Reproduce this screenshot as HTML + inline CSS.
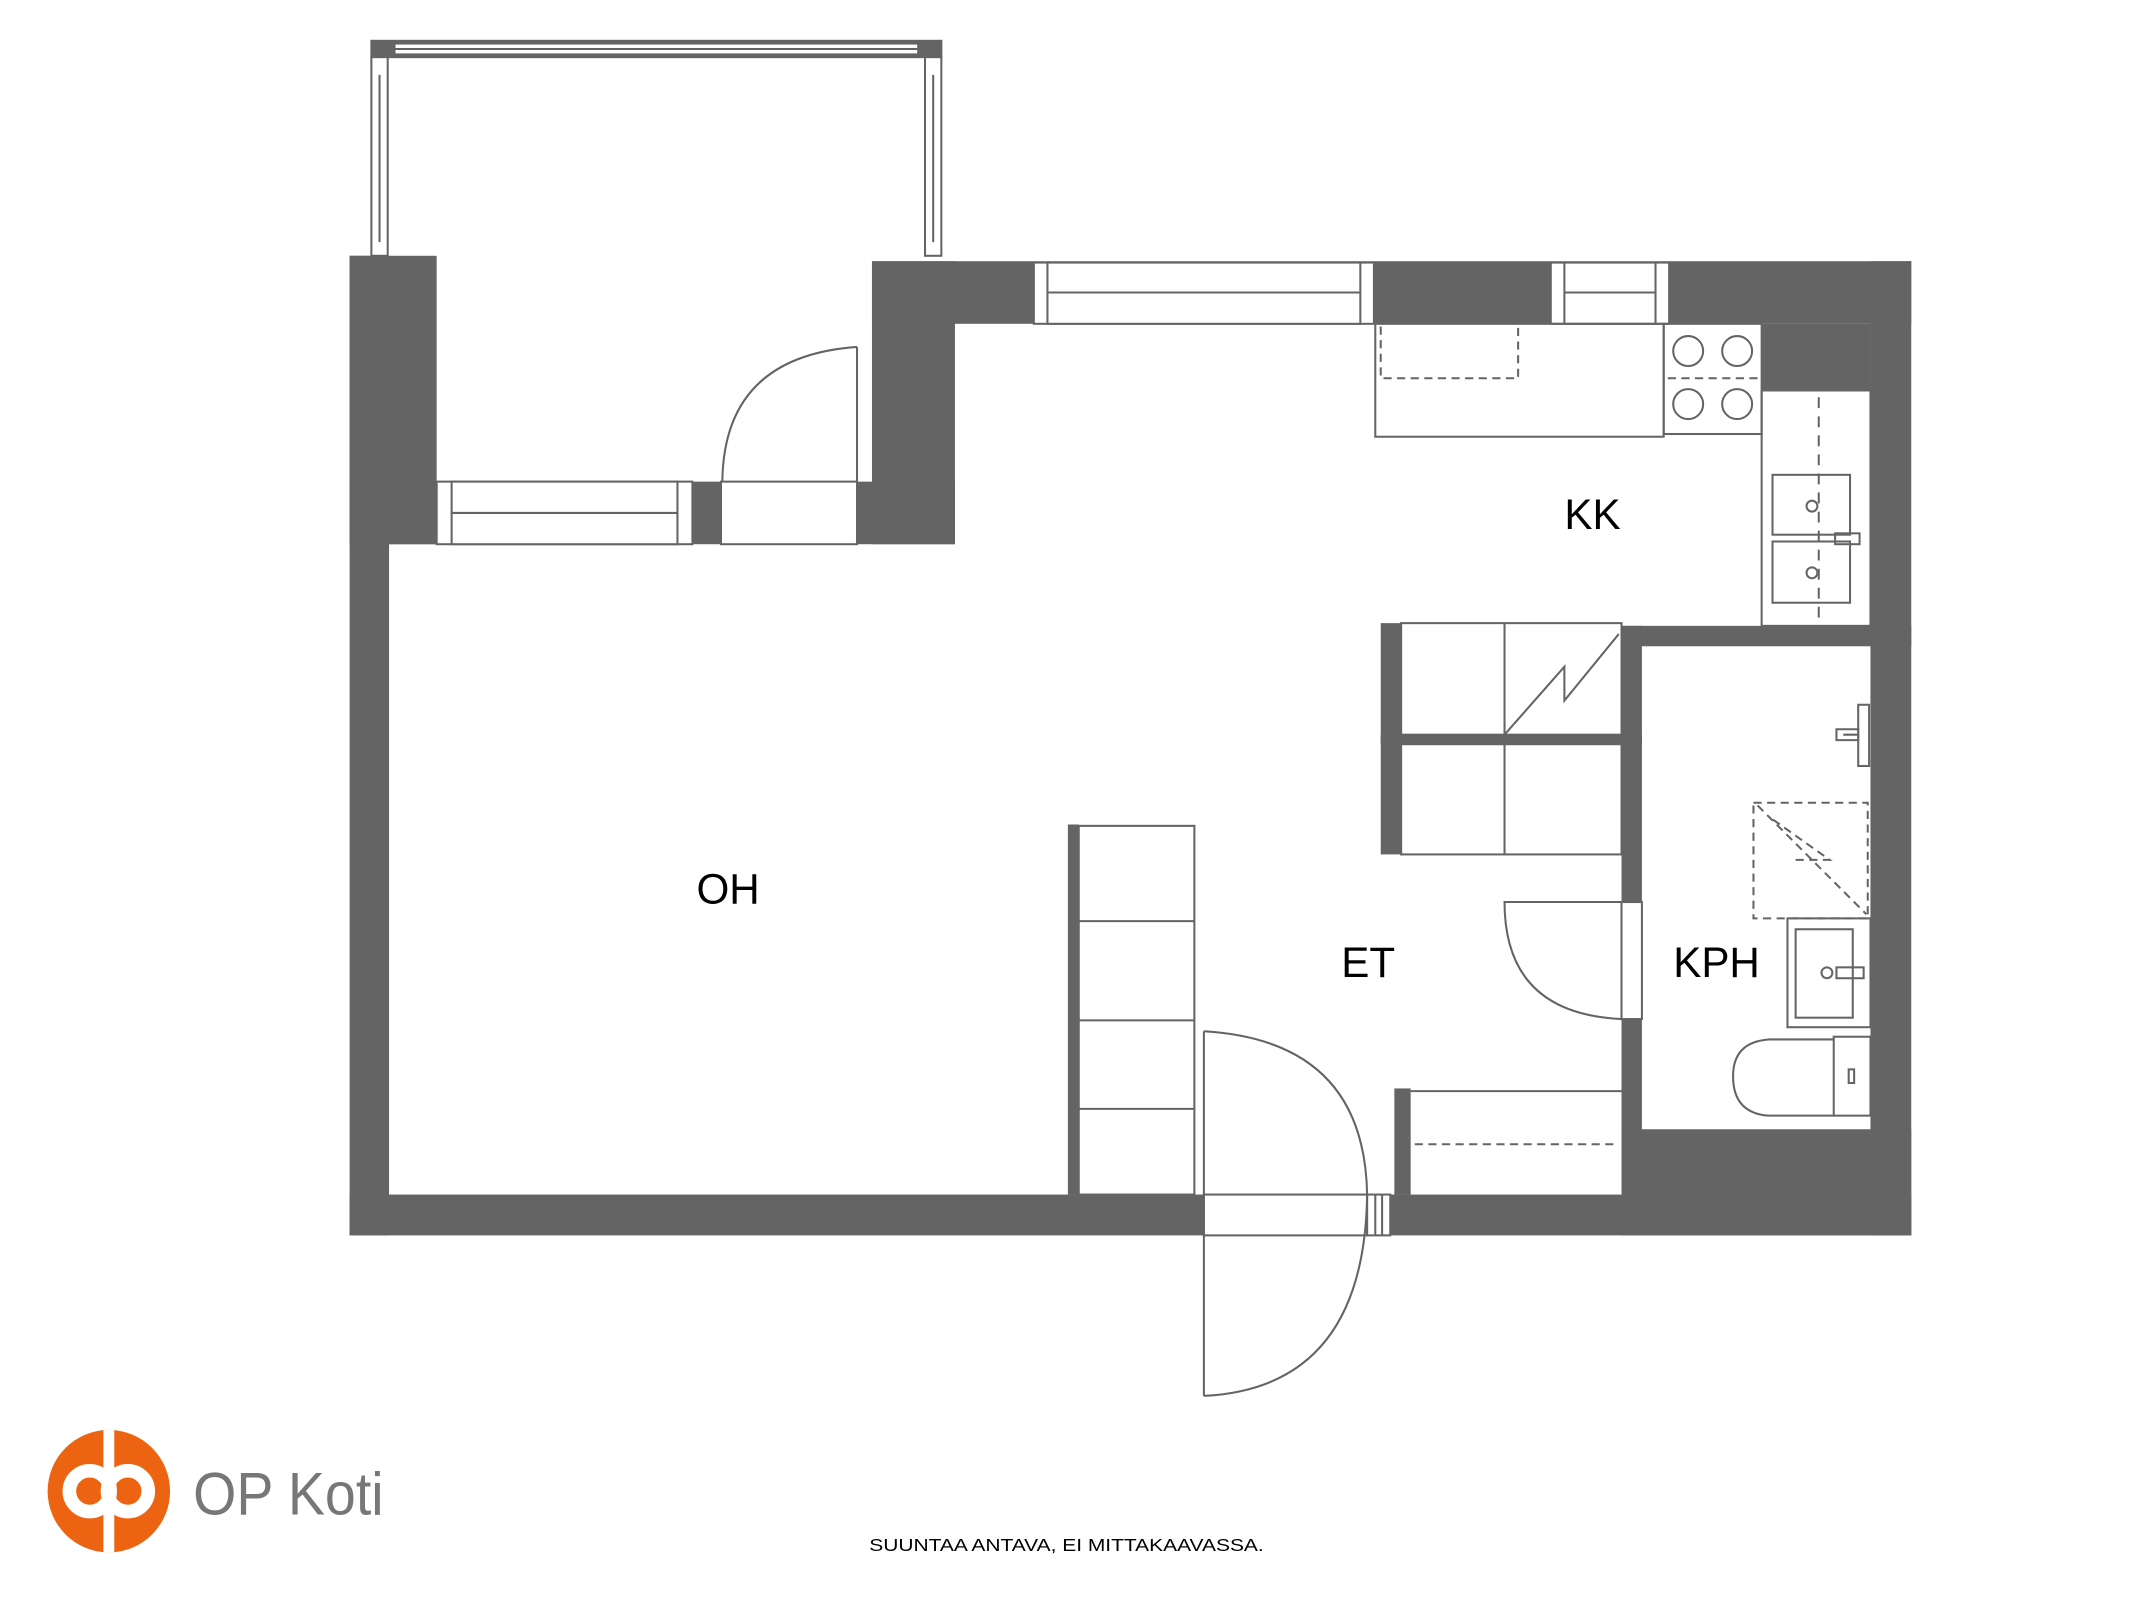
<!DOCTYPE html>
<html><head><meta charset="utf-8"><style>html,body{margin:0;padding:0;background:#fff}svg{display:block}</style></head>
<body>
<svg width="2133" height="1600" viewBox="0 0 1568 1176" preserveAspectRatio="none" xmlns="http://www.w3.org/2000/svg">
<g fill="#646464">
<rect x="257" y="188" width="64" height="212"/>
<rect x="257" y="188" width="29" height="720"/>
<rect x="257" y="354" width="445" height="46"/>
<rect x="641" y="192" width="61" height="208"/>
<rect x="641" y="192" width="764" height="46"/>
<rect x="1375" y="192" width="30" height="716"/>
<rect x="1295" y="238" width="80" height="49"/>
<rect x="257" y="878" width="1148" height="30"/>
<rect x="1192" y="460" width="213" height="15"/>
<rect x="1192" y="460" width="15" height="418"/>
<rect x="1192" y="830" width="213" height="78"/>
<rect x="1015" y="458" width="15" height="170"/>
<rect x="1015" y="540" width="192" height="7"/>
<rect x="785" y="606" width="8" height="272"/>
<rect x="1025" y="800" width="12" height="78"/>
</g>
<g fill="#fff" stroke="#646464" stroke-width="1.5">
<rect x="760" y="193" width="250" height="45"/>
<rect x="770" y="193" width="230" height="45"/>
<line x1="770" y1="215" x2="1000" y2="215"/>
<rect x="1140" y="193" width="87" height="45"/>
<rect x="1150" y="193" width="67" height="45"/>
<line x1="1150" y1="215" x2="1217" y2="215"/>
<rect x="321" y="354" width="188" height="46"/>
<rect x="332" y="354" width="166" height="46"/>
<line x1="332" y1="377" x2="498" y2="377"/>
<rect x="530" y="354" width="100" height="46"/>
<rect x="885" y="878" width="120" height="30"/>
<rect x="1005" y="878" width="17" height="30"/>
<line x1="1011" y1="878" x2="1011" y2="908"/><line x1="1016" y1="878" x2="1016" y2="908"/>
<rect x="1192" y="663" width="15" height="86"/>
</g>
<g fill="none" stroke="#646464" stroke-width="1.5">
<rect x="273" y="30" width="419" height="12" fill="#646464"/>
<rect x="290" y="32" width="385" height="8" fill="#fff"/>
<line x1="290" y1="36" x2="675" y2="36"/>
<rect x="273" y="42" width="12" height="146" fill="#fff"/>
<line x1="279" y1="55" x2="279" y2="178"/>
<rect x="680" y="42" width="12" height="146" fill="#fff"/>
<line x1="686" y1="55" x2="686" y2="178"/>
<path d="M630 255 L630 354 M630 255 Q532 262 531 354"/>
<rect x="1011" y="238" width="212" height="83"/>
<path d="M1015 240 V278 H1116 V240" stroke-dasharray="6 4"/>
<rect x="1223" y="238" width="72" height="81"/>
<circle cx="1241" cy="258" r="11"/><circle cx="1277" cy="258" r="11"/>
<circle cx="1241" cy="297" r="11"/><circle cx="1277" cy="297" r="11"/>
<line x1="1226" y1="278" x2="1293" y2="278" stroke-dasharray="6 4"/>
<rect x="1295" y="287" width="80" height="173"/>
<line x1="1337" y1="292" x2="1337" y2="458" stroke-dasharray="8 6"/>
<rect x="1303" y="349" width="57" height="44"/>
<rect x="1303" y="398" width="57" height="45"/>
<circle cx="1332" cy="372" r="4"/><circle cx="1332" cy="421" r="4"/>
<rect x="1349" y="392" width="18" height="8"/>
<rect x="1030" y="458" width="162" height="82"/>
<line x1="1106" y1="458" x2="1106" y2="540"/>
<path d="M1106 540 L1150 490 L1150 515 L1190 466"/>
<rect x="1030" y="547" width="162" height="81"/>
<line x1="1106" y1="547" x2="1106" y2="628"/>
<rect x="793" y="607" width="85" height="271"/>
<line x1="793" y1="677" x2="878" y2="677"/>
<line x1="793" y1="750" x2="878" y2="750"/>
<line x1="793" y1="815" x2="878" y2="815"/>
<path d="M885 758 L885 1026 M885 758 Q1003 765 1005 878 Q1003 1020 885 1026"/>
<path d="M1192 663 L1106 663 Q1106 745 1192 749"/>
<path d="M1037 802 L1192 802"/>
<line x1="1040" y1="841" x2="1190" y2="841" stroke-dasharray="6 4"/>
<path d="M1289 590 H1373 V675 H1289 Z M1292 592 L1372 672 M1320 632 H1345 L1300 600" stroke-dasharray="6 4"/>
<rect x="1314" y="675" width="61" height="80"/>
<rect x="1320" y="683" width="42" height="65"/>
<circle cx="1343" cy="715" r="4"/>
<rect x="1350" y="711" width="20" height="8"/>
<rect x="1348" y="762" width="27" height="58"/>
<path d="M1348 764 H1300 Q1274 766 1274 791 Q1274 818 1300 820 H1348"/>
<rect x="1359" y="786" width="4" height="10"/>
<rect x="1366" y="518" width="8" height="45"/>
<path d="M1366 540 H1355 M1350 536 H1366 V544 H1350 Z"/>
</g>
<g font-family="Liberation Sans, sans-serif" fill="#000" font-size="31">
<text x="512" y="664">OH</text>
<text x="1150" y="389">KK</text>
<text x="986" y="718">ET</text>
<text x="1230" y="718">KPH</text>
<text x="639" y="1140" font-size="13" textLength="290" lengthAdjust="spacingAndGlyphs">SUUNTAA ANTAVA, EI MITTAKAAVASSA.</text>
</g>
<circle cx="80" cy="1096" r="45" fill="#ec6411"/>
<circle cx="66" cy="1096" r="15" fill="none" stroke="#fff" stroke-width="10"/>
<circle cx="94" cy="1096" r="15" fill="none" stroke="#fff" stroke-width="10"/>
<rect x="76" y="1051" width="8" height="90" fill="#fff"/>
<text x="142" y="1113" font-family="Liberation Sans, sans-serif" font-size="44" fill="#777" textLength="140" lengthAdjust="spacingAndGlyphs">OP Koti</text>
</svg>
</body></html>
